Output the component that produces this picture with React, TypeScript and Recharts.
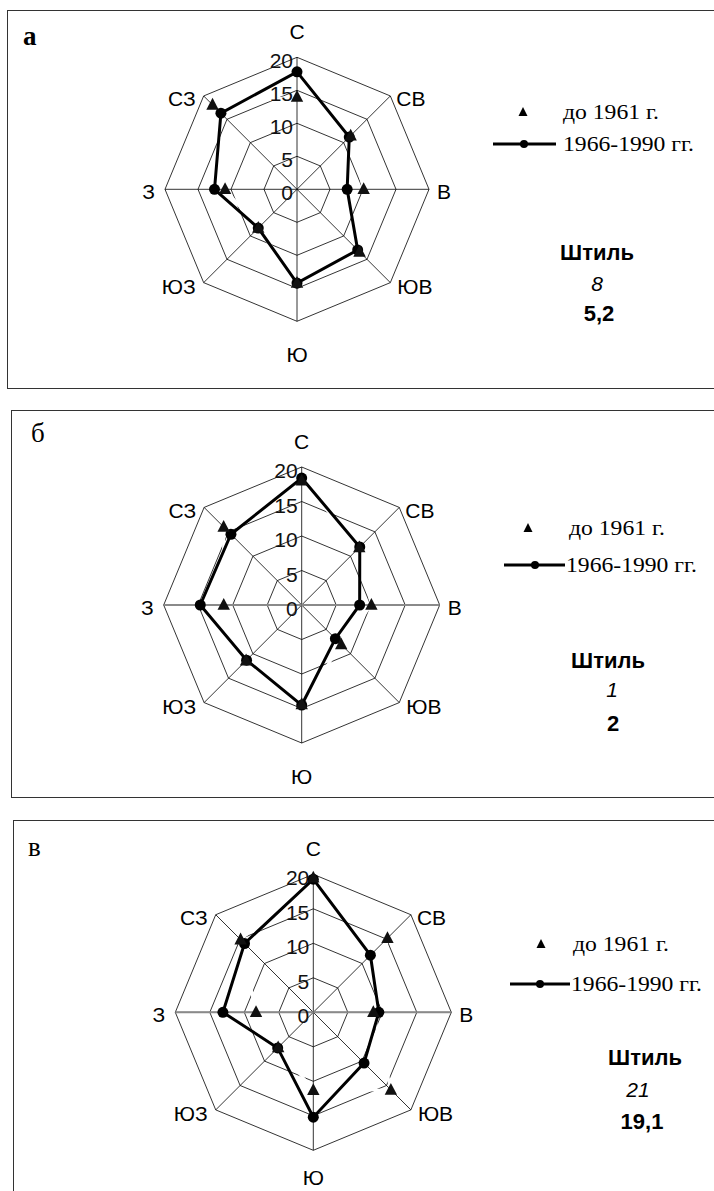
import React from 'react';
import { RadarChart, Radar, PolarGrid, PolarAngleAxis, PolarRadiusAxis } from 'recharts';

// ---- data ----
const directions = ['С', 'СВ', 'В', 'ЮВ', 'Ю', 'ЮЗ', 'З', 'СЗ'];
const radiusTicks = [0, 5, 10, 15, 20];
const seriesNames = ['до 1961 г.', '1966-1990 гг.'];
const calmLabel = 'Штиль';
const panelLetters = ['а', 'б', 'в'];

const beforeA = [14, 11.5, 10.1, 13.4, 14.2, 8.3, 10.9, 18.1];
const afterA = [17.8, 11.2, 7.6, 13.0, 14.2, 8.3, 12.5, 16.3];
const calmA = ['8', '5,2'];

const beforeB = [18, 11.8, 10.1, 8.1, 14.4, 11.4, 11.3, 16];
const afterB = [18.4, 11.9, 8.4, 6.9, 14.5, 11.3, 14.7, 14.5];
const calmB = ['1', '2'];

const beforeV = [19.5, 15.2, 8.7, 15.9, 11.3, 7.2, 8.3, 14.9];
const afterV = [19.3, 11.7, 9.5, 10.4, 15.2, 7.3, 13.1, 14.1];
const calmV = ['21', '19,1'];

const SANS = 'Arial, "Liberation Sans", sans-serif';
const SERIF = '"Times New Roman", "Liberation Serif", serif';

function buildRows(before: number[], after: number[]) {
  return directions.map((d, i) => ({ dir: d, before: before[i], after: after[i] }));
}

function makeAngleTick(cx: number, cy: number, r: number, bottomOffset: number) {
  return (props: any) => {
    const { payload } = props;
    const i = directions.indexOf(payload.value);
    const ang = ((90 - 45 * i) * Math.PI) / 180;
    const vx = cx + r * Math.cos(ang);
    const vy = cy - r * Math.sin(ang);
    let x = vx;
    let y = vy;
    let anchor: any = 'middle';
    switch (i) {
      case 0: y = vy - 26; break;
      case 4: y = vy + bottomOffset; break;
      case 2: x = vx + 8; y = vy + 2; anchor = 'start'; break;
      case 6: x = vx - 10; y = vy + 2; anchor = 'end'; break;
      case 1: x = vx + 6; y = vy + 3; anchor = 'start'; break;
      case 3: x = vx + 7; y = vy + 4; anchor = 'start'; break;
      case 5: x = vx - 8; y = vy + 4; anchor = 'end'; break;
      case 7: x = vx - 8; y = vy + 3; anchor = 'end'; break;
    }
    return (
      <text x={x} y={y} textAnchor={anchor} dominantBaseline="central" fontFamily={SANS} fontSize={21} fill="#000">
        {payload.value}
      </text>
    );
  };
}

const radiusTick = (props: any) => {
  const { x, y, payload } = props;
  return (
    <text x={x - 4} y={y + 3.5} textAnchor="end" dominantBaseline="central" fontFamily={SANS} fontSize={21} fill="#111">
      {payload.value}
    </text>
  );
};

const triangleDot = (props: any) => {
  const { cx, cy, index } = props;
  if (cx == null || cy == null) return <g key={`t-${index}`} />;
  return <path key={`t-${index}`} d={`M${cx},${cy - 7} L${cx + 6.2},${cy + 4.8} L${cx - 6.2},${cy + 4.8} Z`} fill="#111" />;
};

const circleDot = (props: any) => {
  const { cx, cy, index } = props;
  if (cx == null || cy == null) return <g key={`c-${index}`} />;
  return <circle key={`c-${index}`} cx={cx} cy={cy} r={5.5} fill="#000" />;
};

type Panel = {
  box: { left: number; top: number; bottom: number };
  chartTop: number;
  chartH: number;
  cx: number;
  cy: number;
  r: number;
  bottomOffset: number;
  letter: string;
  letterBold: boolean;
  letterPos: { x: number; y: number };
  before: number[];
  after: number[];
  calm: string[];
  legend: { triX: number; row1: number; text1X: number; lineX1: number; lineX2: number; circX: number; row2: number; text2X: number };
  calmX: number[];
  calmY: number[];
  grayAxis: boolean;
};

const panels: Panel[] = [
  {
    box: { left: 7, top: 10, bottom: 389 },
    chartTop: 0, chartH: 395, cx: 297, cy: 189.3, r: 132, bottomOffset: 33,
    letter: panelLetters[0], letterBold: true, letterPos: { x: 23, y: 36 },
    before: beforeA, after: afterA, calm: calmA,
    legend: { triX: 523, row1: 112, text1X: 563, lineX1: 493, lineX2: 556, circX: 524, row2: 144, text2X: 563 },
    calmX: [597, 597, 599], calmY: [252, 283, 313], grayAxis: false,
  },
  {
    box: { left: 11, top: 410, bottom: 798 },
    chartTop: 400, chartH: 405, cx: 301.7, cy: 605, r: 138, bottomOffset: 33,
    letter: panelLetters[1], letterBold: false, letterPos: { x: 31, y: 433 },
    before: beforeB, after: afterB, calm: calmB,
    legend: { triX: 528, row1: 528, text1X: 569, lineX1: 504, lineX2: 565, circX: 535, row2: 565, text2X: 566 },
    calmX: [608, 612, 613], calmY: [660, 689, 723], grayAxis: true,
  },
  {
    box: { left: 13, top: 820, bottom: 1200 },
    chartTop: 810, chartH: 381, cx: 313.3, cy: 1012.3, r: 138, bottomOffset: 27,
    letter: panelLetters[2], letterBold: false, letterPos: { x: 28, y: 847 },
    before: beforeV, after: afterV, calm: calmV,
    legend: { triX: 541, row1: 944, text1X: 573, lineX1: 510, lineX2: 570, circX: 540, row2: 984, text2X: 571 },
    calmX: [645, 638, 642], calmY: [1057, 1089, 1121], grayAxis: true,
  },
];

function PanelChart({ p }: { p: Panel }) {
  const rows = buildRows(p.before, p.after);
  const cyLocal = p.cy - p.chartTop;
  return (
    <div style={{ position: 'absolute', left: 0, top: p.chartTop, width: 714, height: p.chartH }}>
      <RadarChart
        width={714}
        height={p.chartH}
        data={rows}
        cx={p.cx}
        cy={cyLocal}
        outerRadius={p.r}
        startAngle={90}
        endAngle={-270}
        margin={{ top: 0, right: 0, bottom: 0, left: 0 }}
      >
        <PolarGrid gridType="polygon" stroke="#000" strokeWidth={0.8} />
        {p.grayAxis && (
          <PolarGrid gridType="polygon" polarAngles={[0, 180]} polarRadius={[]} stroke="#8a8a8a" strokeWidth={2} />
        )}
        <PolarAngleAxis dataKey="dir" tick={makeAngleTick(p.cx, cyLocal, p.r, p.bottomOffset)} tickLine={false} axisLine={false} />
        <Radar dataKey="before" stroke="#fff" strokeWidth={3} fill="none" fillOpacity={0} dot={false} isAnimationActive={false} legendType="none" />
        <Radar dataKey="after" name={seriesNames[1]} stroke="#000" strokeWidth={3} fill="none" fillOpacity={0} dot={circleDot} isAnimationActive={false} />
        <Radar dataKey="before" name={seriesNames[0]} stroke="none" fill="none" fillOpacity={0} dot={triangleDot} isAnimationActive={false} />
        <PolarRadiusAxis
          angle={90}
          domain={[0, 20]}
          ticks={radiusTicks}
          tickCount={5}
          axisLine={false}
          tickLine={false}
          tick={radiusTick}
        />
      </RadarChart>
    </div>
  );
}

function Overlay() {
  return (
    <svg width={714} height={1191} style={{ position: 'absolute', left: 0, top: 0, pointerEvents: 'none' }}>
      {panels.map((p, k) => {
        const L = p.legend;
        return (
          <g key={k}>
            <text x={p.letterPos.x} y={p.letterPos.y} dominantBaseline="central" fontFamily={SERIF} fontSize={27} fontWeight={p.letterBold ? 'bold' : 'normal'} fill="#000">
              {p.letter}
            </text>
            <path d={`M${L.triX},${L.row1 - 5} L${L.triX + 4.5},${L.row1 + 4} L${L.triX - 4.5},${L.row1 + 4} Z`} fill="#000" />
            <text x={L.text1X} y={L.row1} dominantBaseline="central" fontFamily={SERIF} fontSize={21} textLength={96} lengthAdjust="spacingAndGlyphs" fill="#000">
              {seriesNames[0]}
            </text>
            <line x1={L.lineX1} x2={L.lineX2} y1={L.row2} y2={L.row2} stroke="#000" strokeWidth={3} />
            <circle cx={L.circX} cy={L.row2} r={4} fill="#000" />
            <text x={L.text2X} y={L.row2} dominantBaseline="central" fontFamily={SERIF} fontSize={21} textLength={131} lengthAdjust="spacingAndGlyphs" fill="#000">
              {seriesNames[1]}
            </text>
            <text x={p.calmX[0]} y={p.calmY[0]} textAnchor="middle" dominantBaseline="central" fontFamily={SANS} fontSize={22} fontWeight="bold" fill="#000">
              {calmLabel}
            </text>
            <text x={p.calmX[1]} y={p.calmY[1]} textAnchor="middle" dominantBaseline="central" fontFamily={SANS} fontSize={21} fontStyle="italic" fill="#000">
              {p.calm[0]}
            </text>
            <text x={p.calmX[2]} y={p.calmY[2]} textAnchor="middle" dominantBaseline="central" fontFamily={SANS} fontSize={22} fontWeight="bold" fill="#000">
              {p.calm[1]}
            </text>
          </g>
        );
      })}
    </svg>
  );
}

export default function App() {
  return (
    <div style={{ position: 'absolute', left: 0, top: 0, width: 714, height: 1191, overflow: 'hidden', background: '#fff' }}>
      {panels.map((p, k) => (
        <div
          key={k}
          style={{
            position: 'absolute',
            left: p.box.left,
            top: p.box.top,
            width: 730 - p.box.left,
            height: p.box.bottom - p.box.top,
            border: '1.5px solid #333',
            boxSizing: 'border-box',
          }}
        />
      ))}
      {panels.map((p, k) => (
        <PanelChart key={k} p={p} />
      ))}
      <Overlay />
    </div>
  );
}
